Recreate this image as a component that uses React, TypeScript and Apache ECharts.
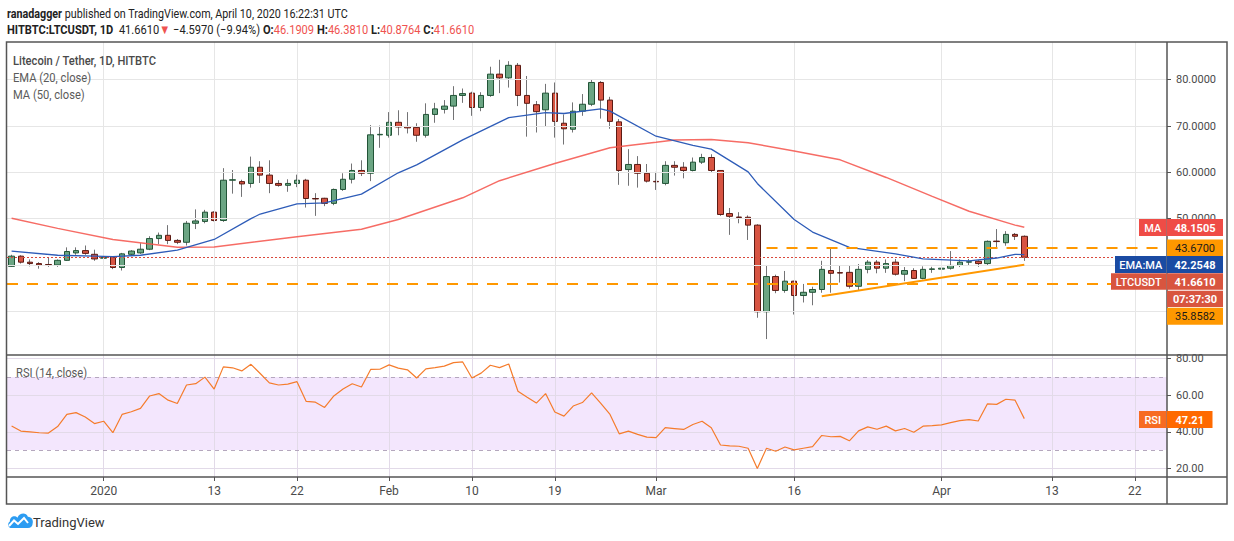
import React, { useEffect, useRef } from "react";
import * as echarts from "echarts";

const DAY = 86400000;
const START = Date.UTC(2019, 11, 22);
const CATEGORY_COUNT = 126;
const categories: string[] = [];
for (let i = 0; i < CATEGORY_COUNT; i++) categories.push(new Date(START + i * DAY).toISOString().slice(0, 10));

const opens = [
  39.7, 41.9, 40.6, 40.3, 40.1, 40.0, 41.0, 42.6, 43.1, 42.3,
  41.45, 41.7, 39.45, 42.3, 42.6, 43.4, 45.7, 46.4, 45.3, 44.9,
  49.0, 49.4, 51.4, 49.6, 58.3, 58.0, 57.6, 61.1, 59.4, 57.6,
  57.2, 57.6, 58.3, 54.35, 54.4, 53.3, 56.3, 58.5, 60.4, 59.8,
  68.1, 68.0, 70.8, 69.9, 69.7, 68.0, 72.5, 73.6, 74.3, 76.6,
  77.1, 74.0, 76.6, 81.2, 80.4, 83.1, 76.6, 74.6, 73.5, 77.1,
  70.6, 69.3, 73.2, 74.7, 79.4, 75.6, 70.9, 60.6, 61.7, 59.8,
  58.05, 57.6, 61.5, 61.1, 60.4, 62.2, 63.2, 60.4, 51.1, 50.35,
  50.3, 48.6, 29.9, 37.5, 34.5, 36.5, 33.4, 34.1, 34.7, 38.8,
  38.35, 38.4, 35.4, 39.05, 40.6, 39.3, 40.6, 38.0, 38.8, 37.1,
  39.05, 39.1, 39.3, 39.9, 40.6, 40.8, 40.3, 45.15, 44.8, 46.6,
  46.1909,
];
const closes = [
  41.9, 40.6, 40.3, 40.0, 39.9, 41.0, 42.9, 43.1, 42.5, 41.3,
  41.65, 39.45, 42.4, 43.0, 43.4, 45.7, 46.4, 45.3, 44.9, 49.0,
  49.5, 51.4, 49.6, 58.3, 58.4, 57.5, 61.1, 59.4, 57.6, 57.2,
  57.6, 58.3, 54.35, 54.25, 53.3, 56.3, 58.5, 60.4, 59.8, 68.1,
  68.2, 70.8, 69.8, 69.6, 68.0, 72.5, 73.7, 74.3, 76.6, 77.0,
  74.0, 76.6, 81.2, 80.4, 83.1, 76.6, 74.9, 73.1, 77.1, 71.0,
  69.4, 73.2, 74.7, 79.4, 75.6, 71.0, 60.4, 61.7, 59.8, 58.1,
  57.95, 61.5, 61.1, 60.4, 62.2, 63.2, 60.4, 50.9, 50.5, 50.25,
  48.6, 29.9, 37.5, 34.5, 36.5, 33.4, 34.1, 34.7, 39.05, 38.2,
  38.25, 35.4, 39.05, 40.6, 39.3, 40.3, 38.0, 38.8, 37.1, 39.05,
  39.15, 39.3, 39.9, 40.6, 40.7, 40.3, 45.1, 45.05, 46.6, 46.1909,
  41.661,
];
const highs = [
  42.2, 42.1, 41.2, 40.6, 41.6, 41.2, 43.8, 43.8, 44.2, 43.3,
  41.9, 41.8, 42.6, 43.2, 44.7, 46.2, 47.0, 48.6, 45.6, 49.5,
  52.0, 51.9, 51.6, 60.9, 60.5, 58.4, 63.4, 62.4, 62.6, 58.3,
  58.5, 59.5, 58.6, 55.5, 54.5, 56.5, 59.8, 61.9, 62.6, 70.2,
  70.1, 73.0, 73.4, 73.0, 70.6, 74.9, 75.0, 75.6, 78.6, 78.1,
  77.4, 77.3, 82.8, 84.3, 84.0, 83.6, 80.8, 75.4, 79.1, 79.4,
  72.5, 75.1, 76.9, 80.1, 79.7, 76.3, 71.5, 65.0, 63.5, 61.8,
  60.1, 62.4, 62.4, 62.2, 63.2, 64.0, 63.9, 60.5, 52.3, 51.4,
  50.7, 48.8, 40.0, 37.9, 38.7, 36.6, 35.9, 35.3, 40.9, 43.8,
  39.9, 39.8, 40.2, 41.05, 41.05, 41.2, 41.3, 39.55, 39.3, 39.7,
  39.6, 39.6, 43.0, 41.2, 41.3, 41.05, 45.3, 47.75, 47.3, 46.9,
  46.381,
];
const lows = [
  39.6, 40.3, 39.7, 39.2, 39.6, 39.6, 40.9, 42.2, 42.2, 40.9,
  41.3, 39.1, 38.8, 41.9, 42.4, 43.2, 44.5, 44.5, 44.5, 44.2,
  47.75, 49.0, 49.4, 49.3, 55.4, 54.7, 56.7, 57.7, 55.5, 56.9,
  55.8, 56.8, 52.4, 50.6, 52.7, 52.9, 56.0, 57.6, 59.2, 58.1,
  65.3, 67.5, 68.0, 68.4, 66.6, 67.5, 70.7, 72.7, 71.3, 75.0,
  72.2, 73.2, 76.3, 77.1, 78.3, 74.3, 67.7, 68.6, 69.8, 67.5,
  66.0, 68.6, 72.2, 74.3, 71.6, 69.4, 57.3, 57.1, 56.7, 57.8,
  56.2, 57.2, 59.3, 58.7, 60.2, 61.8, 59.9, 50.6, 46.5, 49.0,
  45.4, 28.6, 24.0, 33.9, 34.0, 29.3, 31.9, 31.3, 34.0, 34.0,
  36.2, 34.9, 34.6, 38.2, 38.2, 38.3, 37.7, 36.5, 37.0, 36.9,
  38.3, 37.1, 39.0, 39.55, 39.8, 39.6, 40.0, 43.7, 44.15, 45.4,
  40.8764,
];
const rsiValues = [
  43.2, 40.4, 40.0, 39.5, 39.3, 42.9, 49.5, 50.5, 48.1, 44.5,
  45.8, 39.5, 49.5, 51.0, 52.8, 59.6, 60.9, 57.3, 55.5, 65.6,
  66.3, 69.9, 63.4, 75.5, 75.0, 73.3, 76.9, 71.9, 66.8, 65.6,
  66.1, 67.4, 56.6, 56.2, 53.3, 59.6, 63.4, 66.3, 64.5, 74.1,
  74.2, 76.6, 74.8, 73.9, 69.4, 74.4, 75.1, 75.9, 77.8, 78.2,
  69.4, 72.1, 76.4, 75.1, 77.1, 62.2, 58.9, 55.7, 60.9, 50.8,
  48.6, 54.1, 56.0, 61.3, 55.5, 49.5, 38.9, 40.4, 38.6, 37.1,
  36.8, 42.3, 41.8, 41.3, 44.0, 45.8, 42.2, 32.8, 32.3, 32.1,
  31.0, 20.0, 31.0, 29.4, 31.7, 30.1, 31.0, 31.9, 38.0, 37.3,
  37.5, 35.1, 40.5, 42.7, 41.4, 43.1, 40.5, 41.8, 39.8, 43.1,
  43.4, 43.8, 45.0, 46.1, 46.7, 45.9, 55.3, 55.0, 57.8, 57.3,
  47.21,
];
// EMA(20) and MA(50) at the listed candle indexes
const emaIndex = [0, 5, 9, 11, 14, 18, 22, 26, 27, 31, 34, 38, 42, 44, 49, 54, 58, 60, 64, 65, 70, 74, 76, 80, 81, 85, 87, 91, 96, 99, 104, 107, 109, 110];
const emaValues = [43.0, 42.1, 41.9, 41.8, 42.1, 43.2, 45.5, 50.0, 51.0, 53.2, 53.4, 55.3, 59.9, 61.6, 67.0, 71.8, 72.9, 72.7, 73.7, 73.2, 67.8, 65.8, 65.0, 60.1, 57.6, 49.8, 47.1, 43.8, 42.4, 41.3, 40.9, 41.5, 42.3, 42.25];
const maIndex = [0, 5, 11, 18, 22, 31, 38, 42, 49, 53, 59, 65, 70, 72, 76, 80, 85, 90, 95, 100, 104, 109, 110];
const maValues = [50.1, 47.9, 45.5, 43.85, 43.9, 46.1, 47.7, 49.8, 54.5, 58.2, 61.9, 65.3, 66.5, 67.0, 67.1, 66.4, 64.6, 62.7, 58.9, 54.8, 51.6, 48.6, 48.15];

const tickDates = ["2020-01-01", "2020-01-13", "2020-01-22", "2020-02-01", "2020-02-10", "2020-02-19", "2020-03-01", "2020-03-16", "2020-04-01", "2020-04-13", "2020-04-22"];
const tickLabels = ["2020", "13", "22", "Feb", "10", "19", "Mar", "16", "Apr", "13", "22"];
const priceGridLevels = [30, 40, 50, 60, 70, 80];
const priceLabelLevels = [50, 60, 70, 80];
const rsiTicks = [20, 40, 60, 80];

const trendIndex = [88, 110];
const trendValues = [33.25, 40.05];
const resistanceLevel = 43.67;
const resistanceFrom = 82;
const supportLevel = 35.8582;
const lastPrice = 41.661;

const FONT = "Roboto, 'Noto Sans', sans-serif";

echarts.graphic.registerShape(
  "tvCloud",
  echarts.graphic.extendPath(
    "M5 18 C1 18 0 13 3 11 C3 6 8 4 11 7 C13 2 20 1 22 6 C26 6 28 10 27 13 C27 16 25 18 22 18 Z",
    {}
  ) as any
);

function badge(x: number, y: number, w: number, h: number, fill: string, text: string, color: string, weight: string) {
  return [
    { type: "rect", z: 200, shape: { x, y, width: w, height: h }, style: { fill } },
    {
      type: "text",
      z: 201,
      x: x + w / 2,
      y: y + h / 2 + 0.5,
      style: { text, fill: color, font: `${weight} 11px ${FONT}`, align: "center", verticalAlign: "middle" },
    },
  ];
}

function buildOption() {
  const candleFull = opens.map((o, i) => [o, closes[i], lows[i], highs[i]]);
  const candleBody = opens.map((o, i) => [o, closes[i], Math.min(o, closes[i]), Math.max(o, closes[i])]);
  const ema = emaIndex.map((k, i) => [k, emaValues[i]]);
  const ma = maIndex.map((k, i) => [k, maValues[i]]);
  const trend = trendIndex.map((k, i) => [k, trendValues[i]]);
  const resistance = [[resistanceFrom, resistanceLevel], [CATEGORY_COUNT - 1, resistanceLevel]];
  const labelMap: Record<string, string> = {};
  tickDates.forEach((d, i) => (labelMap[d] = tickLabels[i]));
  const isTick = (_i: number, v: string) => v in labelMap;
  const gridColor = "#e6e6e6";
  const vLines = tickDates.map((d) => ({ xAxis: d }));

  const headerX = 7;
  const graphic: any[] = [
    {
      type: "text", x: headerX, y: 13.5, scaleX: 0.826, z: 100,
      style: {
        text: "{b|ranadagger} published on TradingView.com, April 10, 2020 16:22:31 UTC",
        fill: "#222", font: `13px ${FONT}`, verticalAlign: "middle",
        rich: { b: { fontWeight: "bold", fontSize: 13, fontFamily: FONT, fill: "#222" } },
      },
    },
    {
      type: "text", x: headerX, y: 30, scaleX: 0.855, z: 100,
      style: {
        text: "{b|HITBTC:LTCUSDT, 1D}  41.6610{r|▼} −4.5970 (−9.94%) {b|O:}{r|46.1909} {b|H:}{r|46.3810} {b|L:}{r|40.8764} {b|C:}{r|41.6610}",
        fill: "#222", font: `13px ${FONT}`, verticalAlign: "middle",
        rich: {
          b: { fontWeight: "bold", fontSize: 13, fontFamily: FONT, fill: "#222" },
          r: { fontSize: 13, fontFamily: FONT, fill: "#ef5350" },
        },
      },
    },
    { type: "text", x: 13, y: 61, scaleX: 0.86, z: 100, style: { text: "Litecoin / Tether, 1D, HITBTC", fill: "#4a4a4a", font: `500 13px ${FONT}`, verticalAlign: "middle" } },
    { type: "text", x: 13, y: 78, scaleX: 0.86, z: 100, style: { text: "EMA (20, close)", fill: "#5a5a5a", font: `13px ${FONT}`, verticalAlign: "middle" } },
    { type: "text", x: 13, y: 94.5, scaleX: 0.86, z: 100, style: { text: "MA (50, close)", fill: "#5a5a5a", font: `13px ${FONT}`, verticalAlign: "middle" } },
    { type: "text", x: 16, y: 372.5, scaleX: 0.86, z: 100, style: { text: "RSI (14, close)", fill: "#5a5a5a", font: `13px ${FONT}`, verticalAlign: "middle" } },
    // frame
    { type: "rect", z: 90, shape: { x: 6.5, y: 42, width: 1220.5, height: 462 }, style: { fill: "none", stroke: "#555", lineWidth: 1.5 } },
    { type: "line", z: 90, shape: { x1: 1167, y1: 42, x2: 1167, y2: 504 }, style: { stroke: "#555", lineWidth: 1.5 } },
    { type: "line", z: 90, shape: { x1: 6.5, y1: 355, x2: 1227, y2: 355 }, style: { stroke: "#555", lineWidth: 1.5 } },
    { type: "line", z: 90, shape: { x1: 6.5, y1: 477, x2: 1227, y2: 477 }, style: { stroke: "#555", lineWidth: 1.5 } },
    // price scale badges
    ...badge(1139, 219, 27.5, 17, "#ef4c46", "MA", "#fff", "500"),
    ...badge(1167, 219, 56, 17, "#ef4c46", "48.1505", "#fff", "bold"),
    ...badge(1167, 239.5, 56, 16.5, "#ff9800", "43.6700", "#1a1a1a", "normal"),
    ...badge(1115, 256, 51.5, 17, "#1a4ba3", "EMA:MA", "#fff", "500"),
    ...badge(1167, 256, 56, 17, "#1a4ba3", "42.2548", "#fff", "bold"),
    ...badge(1111, 273.3, 55.5, 16.5, "#d8553f", "LTCUSDT", "#fff", "500"),
    ...badge(1167, 273.3, 56, 16.5, "#d8553f", "41.6610", "#fff", "bold"),
    ...badge(1167, 290.7, 56, 16.3, "#d8553f", "07:37:30", "#fff", "bold"),
    ...badge(1167, 307.7, 56, 17, "#ff9800", "35.8582", "#1a1a1a", "normal"),
    ...badge(1139, 411, 27.5, 17, "#f76b22", "RSI", "#fff", "500"),
    ...badge(1167, 411, 45.5, 17, "#ff6a00", "47.21", "#fff", "bold"),
    // logo
    { type: "tvCloud", x: 7, y: 511, scaleX: 0.95, scaleY: 0.95, z: 100, style: { fill: "#2c9cf2" } },
    { type: "polyline", z: 101, shape: { points: [[9, 526], [14, 520.5], [18, 524], [24, 518], [28, 523]] }, style: { stroke: "#fff", lineWidth: 2, fill: "none" } },
    { type: "text", x: 33, y: 522.5, z: 100, style: { text: "TradingView", fill: "#333", font: `13px ${FONT}`, verticalAlign: "middle" } },
  ];

  return {
    animation: false,
    backgroundColor: "#ffffff",
    textStyle: { fontFamily: FONT },
    grid: [
      { left: 7, top: 42, width: 1160, height: 313 },
      { left: 7, top: 355, width: 1160, height: 122 },
    ],
    xAxis: [
      {
        type: "category", gridIndex: 0, data: categories, boundaryGap: true,
        axisLine: { show: false }, axisTick: { show: false }, axisLabel: { show: false }, splitLine: { show: false },
      },
      {
        type: "category", gridIndex: 1, data: categories, boundaryGap: true,
        axisLine: { show: false },
        axisTick: { show: true, alignWithLabel: true, interval: isTick, length: 4, lineStyle: { color: "#555" } },
        axisLabel: { interval: isTick, formatter: (v: string) => labelMap[v] || "", color: "#4a4a4a", fontSize: 12, margin: 8, fontFamily: FONT },
        splitLine: { show: false },
      },
    ],
    yAxis: [
      {
        type: "value", gridIndex: 0, position: "right", min: 20.56, max: 88.14, scale: true,
        axisLine: { show: false },
        axisTick: { show: true, customValues: priceGridLevels, length: 4, lineStyle: { color: "#555" } },
        axisLabel: { customValues: priceLabelLevels, formatter: (v: number) => v.toFixed(4), color: "#4a4a4a", fontSize: 11, margin: 9, fontFamily: FONT },
        splitLine: { show: false },
      },
      {
        type: "value", gridIndex: 1, position: "right", min: 15.3, max: 82, scale: true,
        axisLine: { show: false },
        axisTick: { show: true, customValues: rsiTicks, length: 4, lineStyle: { color: "#555" } },
        axisLabel: { customValues: rsiTicks, formatter: (v: number) => v.toFixed(2), color: "#4a4a4a", fontSize: 11, margin: 9, fontFamily: FONT },
        splitLine: { show: false },
      },
    ],
    graphic,
    series: [
      {
        name: "priceGrid", type: "line", xAxisIndex: 0, yAxisIndex: 0, data: [], z: 1, silent: true,
        markLine: {
          silent: true, symbol: "none", label: { show: false }, animation: false,
          lineStyle: { color: gridColor, width: 1, type: "solid" },
          data: [...vLines, ...priceGridLevels.map((v) => ({ yAxis: v }))],
        },
      },
      {
        name: "rsiGrid", type: "line", xAxisIndex: 1, yAxisIndex: 1, data: [], z: 1, silent: true,
        markArea: {
          silent: true, itemStyle: { color: "#f3e6fd" },
          data: [[{ yAxis: 30 }, { yAxis: 70 }]],
        },
        markLine: {
          silent: true, symbol: "none", label: { show: false }, animation: false,
          lineStyle: { color: "#e2dae8", width: 1, type: "solid" },
          data: [
            ...vLines,
            ...rsiTicks.map((v) => ({ yAxis: v })),
            { yAxis: 70, lineStyle: { color: "#b4a7bd", type: [4, 4], width: 1 } },
            { yAxis: 30, lineStyle: { color: "#b4a7bd", type: [4, 4], width: 1 } },
          ],
        },
      },
      {
        name: "wicks", type: "candlestick", xAxisIndex: 0, yAxisIndex: 0, data: candleFull, barWidth: 1, z: 3,
        itemStyle: { color: "#737375", color0: "#737375", borderColor: "#737375", borderColor0: "#737375", borderWidth: 1 },
      },
      {
        name: "LTCUSDT", type: "candlestick", xAxisIndex: 0, yAxisIndex: 0, data: candleBody, barWidth: 6, z: 4,
        itemStyle: { color: "#6ba583", color0: "#d75442", borderColor: "#225437", borderColor0: "#5b1a13", borderWidth: 1 },
      },
      {
        name: "MA (50, close)", type: "line", xAxisIndex: 0, yAxisIndex: 0, data: ma, symbol: "none", z: 5,
        lineStyle: { color: "#f4524a", width: 1.5, opacity: 0.85 },
      },
      {
        name: "EMA (20, close)", type: "line", xAxisIndex: 0, yAxisIndex: 0, data: ema, symbol: "none", z: 6,
        lineStyle: { color: "#2e5cb8", width: 1.3 },
      },
      {
        name: "levels", type: "line", xAxisIndex: 0, yAxisIndex: 0, data: resistance, symbol: "none", z: 7,
        lineStyle: { color: "#ff9800", width: 2, type: [11, 9] },
        markLine: {
          silent: true, symbol: "none", label: { show: false }, animation: false,
          data: [
            { yAxis: supportLevel, lineStyle: { color: "#ff9800", width: 2, type: [11, 9] } },
            { yAxis: lastPrice, lineStyle: { color: "#d9483b", width: 1, type: [2, 2] } },
          ],
        },
      },
      {
        name: "trend", type: "line", xAxisIndex: 0, yAxisIndex: 0, data: trend, symbol: "none", z: 7,
        lineStyle: { color: "#ff9800", width: 2 },
      },
      {
        name: "RSI", type: "line", xAxisIndex: 1, yAxisIndex: 1, data: rsiValues, symbol: "none", z: 5,
        lineStyle: { color: "#f57c2c", width: 1.2 },
      },
    ],
  };
}

export default function App() {
  const ref = useRef<HTMLDivElement>(null);
  useEffect(() => {
    document.body.style.margin = "0";
    if (!ref.current) return;
    const chart = echarts.init(ref.current, undefined, { renderer: "svg" });
    chart.setOption(buildOption() as any);
    return () => chart.dispose();
  }, []);
  return <div ref={ref} style={{ width: 1234, height: 541 }} />;
}
